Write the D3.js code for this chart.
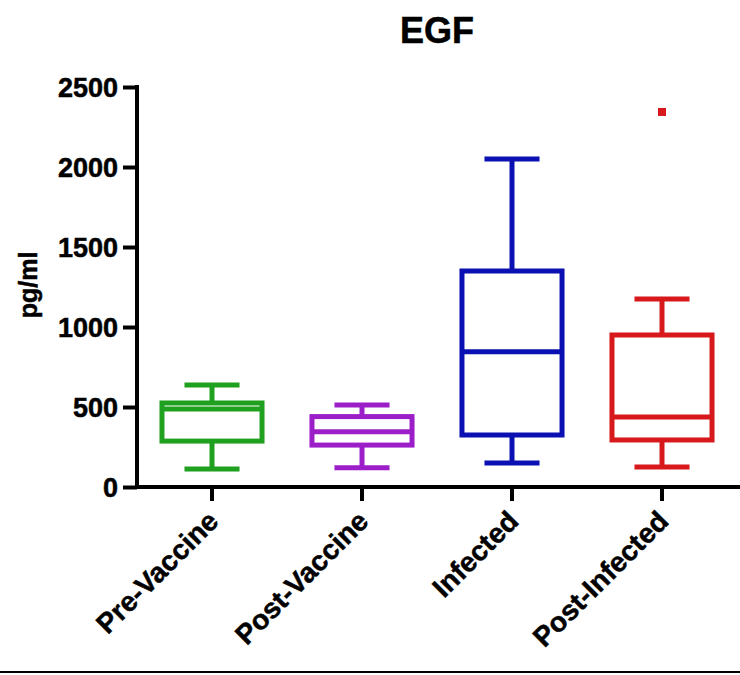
<!DOCTYPE html>
<html>
<head>
<meta charset="utf-8">
<script src="https://cdn.jsdelivr.net/npm/d3@7"></script>
<style>
  html, body { margin: 0; padding: 0; background: #fff; }
  svg { display: block; }
  text { font-family: "Liberation Sans", Arial, sans-serif; font-weight: bold; fill: #000; stroke: #000; stroke-width: 0.5px; }
</style>
</head>
<body>
<svg id="chart" width="740" height="675"></svg>
<script>
// Groups and their five-number summaries (pg/ml)
const categories = ["Pre-Vaccine", "Post-Vaccine", "Infected", "Post-Infected"];
const minimums   = [112, 120, 150, 125];
const quartile1  = [287, 262, 325, 294];
const medians    = [487, 346, 846, 437];
const quartile3  = [525, 440, 1350, 950];
const maximums   = [637, 512, 2050, 1175];
const outliers   = [[], [], [], [2344]];
const colors     = ["#1fa01f", "#9b1ec8", "#0a10b2", "#d7191c"];
const yTicks     = [0, 500, 1000, 1500, 2000, 2500];

const svg = d3.select("#chart");

const x = d3.scaleBand().domain(categories).range([137, 737]).paddingInner(0).paddingOuter(0);
const y = d3.scaleLinear().domain([0, 2500]).range([487, 87]);

const boxW = x.bandwidth() * 0.667;
const capW = x.bandwidth() * 0.367;
const sw = 5;

// Title
svg.append("text").attr("x", 437).attr("y", 43).attr("text-anchor", "middle")
  .style("font-size", "36px").text("EGF");

// Y axis title
svg.append("text").attr("transform", "translate(37,285) rotate(-90)")
  .attr("text-anchor", "middle").style("font-size", "25px").text("pg/ml");

// Boxes
const rows = categories.map((c, i) => ({
  c, min: minimums[i], q1: quartile1[i], med: medians[i], q3: quartile3[i],
  max: maximums[i], out: outliers[i], color: colors[i]
}));

const g = svg.append("g");
rows.forEach(d => {
  const cx = x(d.c) + x.bandwidth() / 2;
  const gg = g.append("g").attr("stroke", d.color).attr("stroke-width", sw).attr("fill", "none");
  // whiskers
  gg.append("line").attr("x1", cx).attr("x2", cx).attr("y1", y(d.q3)).attr("y2", y(d.max));
  gg.append("line").attr("x1", cx).attr("x2", cx).attr("y1", y(d.q1)).attr("y2", y(d.min));
  gg.append("line").attr("x1", cx - capW / 2).attr("x2", cx + capW / 2).attr("y1", y(d.max)).attr("y2", y(d.max));
  gg.append("line").attr("x1", cx - capW / 2).attr("x2", cx + capW / 2).attr("y1", y(d.min)).attr("y2", y(d.min));
  // box
  gg.append("rect").attr("x", cx - boxW / 2).attr("width", boxW)
    .attr("y", y(d.q3)).attr("height", y(d.q1) - y(d.q3)).attr("fill", "#fff");
  // median
  gg.append("line").attr("x1", cx - boxW / 2).attr("x2", cx + boxW / 2).attr("y1", y(d.med)).attr("y2", y(d.med));
  // outliers
  d.out.forEach(v => {
    g.append("rect").attr("x", cx - 4).attr("y", y(v) - 4).attr("width", 8).attr("height", 8)
      .attr("fill", d.color);
  });
});

// Y axis
const yAxis = svg.append("g").attr("transform", "translate(137,0)")
  .call(d3.axisLeft(y).tickValues(yTicks).tickSize(14).tickPadding(5).tickFormat(d3.format("d")));
yAxis.select(".domain").attr("stroke", "#000").attr("stroke-width", 4)
  .attr("d", `M0,${y(2500) - 2}V${y(0) + 2}`);
yAxis.selectAll(".tick line").attr("stroke", "#000").attr("stroke-width", 4);
yAxis.selectAll(".tick text").style("font-size", "27px").attr("dy", "0.36em")
  .style("font-family", '"Liberation Sans", Arial, sans-serif').style("font-weight", "bold");

// X axis
const xAxis = svg.append("g").attr("transform", `translate(0,${y(0)})`)
  .call(d3.axisBottom(x).tickSize(14).tickSizeOuter(0));
xAxis.select(".domain").attr("stroke", "#000").attr("stroke-width", 4)
  .attr("d", "M135,0H740");
xAxis.selectAll(".tick line").attr("stroke", "#000").attr("stroke-width", 4);
xAxis.selectAll(".tick text")
  .attr("x", 0).attr("y", 0).attr("dy", 0)
  .attr("text-anchor", "end")
  .attr("transform", "translate(8,36) rotate(-45)")
  .style("font-size", "28px")
  .style("font-family", '"Liberation Sans", Arial, sans-serif').style("font-weight", "bold");

// Bottom rule
svg.append("line").attr("x1", 0).attr("x2", 740).attr("y1", 672).attr("y2", 672)
  .attr("stroke", "#000").attr("stroke-width", 2);
</script>
</body>
</html>
